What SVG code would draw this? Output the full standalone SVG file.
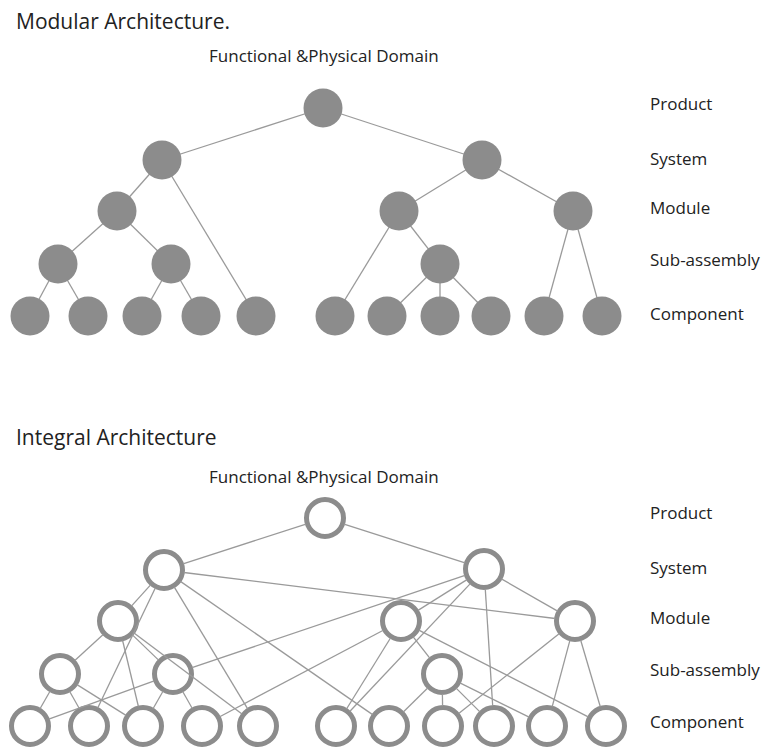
<svg xmlns="http://www.w3.org/2000/svg" width="765" height="748" viewBox="0 0 765 748">
  <style>
    text { font-family: "Open Sans", "Noto Sans", sans-serif; fill: #222; }
    .title { font-size: 21px; }
    .lbl { font-size: 17px; }
    .link { stroke: #9a9a9a; stroke-width: 1.3; fill: none; }
    .solid { fill: #8c8c8c; }
    .ring { fill: #fff; stroke: #8c8c8c; stroke-width: 5; }
  </style>
  <rect width="765" height="748" fill="#fff"/>

  <!-- Modular architecture -->
  <text class="title" x="16" y="29">Modular Architecture.</text>
  <text class="lbl" x="209" y="62">Functional &amp;Physical Domain</text>
  <g id="modular-levels" class="lbl">
    <text class="lbl" x="650" y="110">Product</text>
    <text class="lbl" x="650" y="165">System</text>
    <text class="lbl" x="650" y="214">Module</text>
    <text class="lbl" x="650" y="266">Sub-assembly</text>
    <text class="lbl" x="650" y="320">Component</text>
  </g>

  <g id="modular-links" class="link">
    <line x1="323" y1="108" x2="162" y2="160"/>
    <line x1="323" y1="108" x2="482" y2="160"/>
    <line x1="162" y1="160" x2="117" y2="211"/>
    <line x1="162" y1="160" x2="256" y2="316"/>
    <line x1="117" y1="211" x2="58" y2="264"/>
    <line x1="117" y1="211" x2="171" y2="264"/>
    <line x1="58" y1="264" x2="30" y2="316"/>
    <line x1="58" y1="264" x2="88" y2="316"/>
    <line x1="171" y1="264" x2="142" y2="316"/>
    <line x1="171" y1="264" x2="201" y2="316"/>
    <line x1="482" y1="160" x2="399" y2="211"/>
    <line x1="482" y1="160" x2="573" y2="211"/>
    <line x1="399" y1="211" x2="335" y2="316"/>
    <line x1="399" y1="211" x2="440" y2="264"/>
    <line x1="440" y1="264" x2="387" y2="316"/>
    <line x1="440" y1="264" x2="440" y2="316"/>
    <line x1="440" y1="264" x2="491" y2="316"/>
    <line x1="573" y1="211" x2="544" y2="316"/>
    <line x1="573" y1="211" x2="602" y2="316"/>
  </g>

  <g id="m-product"><circle class="solid" cx="323" cy="108" r="19.5"/></g>
  <g id="m-system-1"><circle class="solid" cx="162" cy="160" r="19.5"/></g>
  <g id="m-system-2"><circle class="solid" cx="482" cy="160" r="19.5"/></g>
  <g id="m-module-1"><circle class="solid" cx="117" cy="211" r="19.5"/></g>
  <g id="m-module-2"><circle class="solid" cx="399" cy="211" r="19.5"/></g>
  <g id="m-module-3"><circle class="solid" cx="573" cy="211" r="19.5"/></g>
  <g id="m-sub-1"><circle class="solid" cx="58" cy="264" r="19.5"/></g>
  <g id="m-sub-2"><circle class="solid" cx="171" cy="264" r="19.5"/></g>
  <g id="m-sub-3"><circle class="solid" cx="440" cy="264" r="19.5"/></g>
  <g id="m-comp-1"><circle class="solid" cx="30" cy="316" r="19.5"/></g>
  <g id="m-comp-2"><circle class="solid" cx="88" cy="316" r="19.5"/></g>
  <g id="m-comp-3"><circle class="solid" cx="142" cy="316" r="19.5"/></g>
  <g id="m-comp-4"><circle class="solid" cx="201" cy="316" r="19.5"/></g>
  <g id="m-comp-5"><circle class="solid" cx="256" cy="316" r="19.5"/></g>
  <g id="m-comp-6"><circle class="solid" cx="335" cy="316" r="19.5"/></g>
  <g id="m-comp-7"><circle class="solid" cx="387" cy="316" r="19.5"/></g>
  <g id="m-comp-8"><circle class="solid" cx="440" cy="316" r="19.5"/></g>
  <g id="m-comp-9"><circle class="solid" cx="491" cy="316" r="19.5"/></g>
  <g id="m-comp-10"><circle class="solid" cx="544" cy="316" r="19.5"/></g>
  <g id="m-comp-11"><circle class="solid" cx="602" cy="316" r="19.5"/></g>

  <!-- Integral architecture -->
  <text class="title" x="16" y="445">Integral Architecture</text>
  <text class="lbl" x="209" y="483">Functional &amp;Physical Domain</text>
  <g id="integral-levels">
    <text class="lbl" x="650" y="519">Product</text>
    <text class="lbl" x="650" y="574">System</text>
    <text class="lbl" x="650" y="624">Module</text>
    <text class="lbl" x="650" y="676">Sub-assembly</text>
    <text class="lbl" x="650" y="728">Component</text>
  </g>

  <g id="i-product"><circle class="ring" cx="325" cy="518" r="18.5"/></g>
  <g id="i-system-1"><circle class="ring" cx="164" cy="570" r="18.5"/></g>
  <g id="i-system-2"><circle class="ring" cx="484" cy="569" r="18.5"/></g>
  <g id="i-module-1"><circle class="ring" cx="118" cy="621" r="18.5"/></g>
  <g id="i-module-2"><circle class="ring" cx="401" cy="621" r="18.5"/></g>
  <g id="i-module-3"><circle class="ring" cx="575" cy="621" r="18.5"/></g>
  <g id="i-sub-1"><circle class="ring" cx="60" cy="674" r="18.5"/></g>
  <g id="i-sub-2"><circle class="ring" cx="173" cy="674" r="18.5"/></g>
  <g id="i-sub-3"><circle class="ring" cx="442" cy="674" r="18.5"/></g>
  <g id="i-comp-1"><circle class="ring" cx="30" cy="726" r="18.5"/></g>
  <g id="i-comp-2"><circle class="ring" cx="89" cy="726" r="18.5"/></g>
  <g id="i-comp-3"><circle class="ring" cx="143" cy="726" r="18.5"/></g>
  <g id="i-comp-4"><circle class="ring" cx="202" cy="726" r="18.5"/></g>
  <g id="i-comp-5"><circle class="ring" cx="258" cy="726" r="18.5"/></g>
  <g id="i-comp-6"><circle class="ring" cx="336" cy="726" r="18.5"/></g>
  <g id="i-comp-7"><circle class="ring" cx="389" cy="726" r="18.5"/></g>
  <g id="i-comp-8"><circle class="ring" cx="443" cy="726" r="18.5"/></g>
  <g id="i-comp-9"><circle class="ring" cx="494" cy="726" r="18.5"/></g>
  <g id="i-comp-10"><circle class="ring" cx="547" cy="726" r="18.5"/></g>
  <g id="i-comp-11"><circle class="ring" cx="606" cy="726" r="18.5"/></g>

  <!-- links trimmed to the ring edges so lines crossing a ring stay visible -->
  <g id="integral-links" class="link">
    <line x1="306" y1="524.2" x2="183" y2="563.8"/>
    <line x1="344" y1="524.1" x2="465" y2="562.9"/>
    <line x1="150.6" y1="584.9" x2="131.4" y2="606.1"/>
    <line x1="155.3" y1="588" x2="97.7" y2="708"/>
    <line x1="174.3" y1="587.1" x2="247.7" y2="708.9"/>
    <line x1="180.4" y1="581.4" x2="372.6" y2="714.6"/>
    <line x1="183.8" y1="572.5" x2="555.2" y2="618.5"/>
    <line x1="467" y1="579.6" x2="418" y2="610.4"/>
    <line x1="501.4" y1="578.9" x2="557.6" y2="611.1"/>
    <line x1="465" y1="575.4" x2="192" y2="667.6"/>
    <line x1="470.3" y1="583.6" x2="349.7" y2="711.5"/>
    <line x1="485.3" y1="589" x2="492.7" y2="706"/>
    <line x1="103.2" y1="634.5" x2="74.8" y2="660.5"/>
    <line x1="132.4" y1="634.9" x2="158.6" y2="660.1"/>
    <line x1="122.6" y1="640.5" x2="138.4" y2="706.5"/>
    <line x1="134" y1="633" x2="242" y2="714"/>
    <line x1="413.2" y1="636.8" x2="429.8" y2="658.2"/>
    <line x1="390.5" y1="638" x2="346.5" y2="709"/>
    <line x1="383.3" y1="630.3" x2="219.7" y2="716.7"/>
    <line x1="418.8" y1="630.1" x2="588.2" y2="716.9"/>
    <line x1="559.4" y1="633.5" x2="458.7" y2="713.6"/>
    <line x1="569.9" y1="640.3" x2="552.2" y2="706.7"/>
    <line x1="580.7" y1="640.2" x2="600.3" y2="706.8"/>
    <line x1="50" y1="691.3" x2="40" y2="708.7"/>
    <line x1="69.7" y1="691.5" x2="79.3" y2="708.5"/>
    <line x1="77" y1="684.6" x2="126" y2="715.4"/>
    <line x1="154.2" y1="680.8" x2="48.8" y2="719.2"/>
    <line x1="163" y1="691.3" x2="153" y2="708.7"/>
    <line x1="182.7" y1="691.5" x2="192.3" y2="708.5"/>
    <line x1="427.7" y1="688" x2="403.3" y2="712"/>
    <line x1="442.4" y1="694" x2="442.6" y2="706"/>
    <line x1="456.1" y1="688.1" x2="479.9" y2="711.9"/>
    <line x1="459.9" y1="682.9" x2="529.1" y2="717.1"/>
  </g>
</svg>
